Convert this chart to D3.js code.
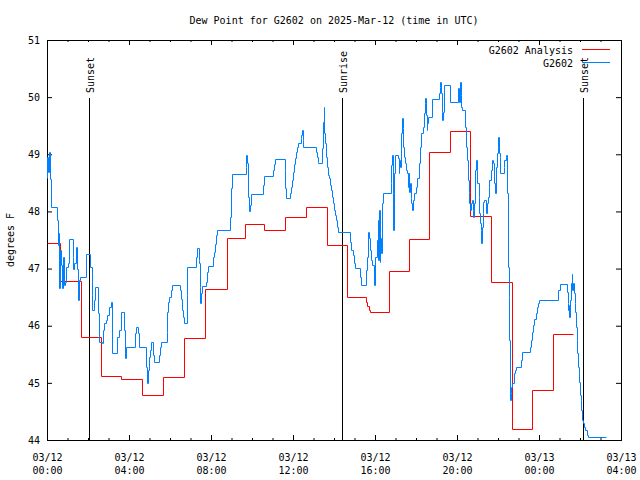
<!DOCTYPE html>
<html><head><meta charset="utf-8">
<script src="https://cdn.jsdelivr.net/npm/d3@7"></script>
<style>
body{margin:0;background:#fff}
svg{display:block;background:#fff}
text{font-family:"DejaVu Sans Mono","Liberation Mono",monospace;font-size:10px;fill:#000}
</style></head><body>
<svg id="c" width="640" height="480"></svg>
<script>
// ---------- data ----------
const chartTitle = "Dew Point for G2602 on 2025-Mar-12 (time in UTC)";
const yLabel = "degrees F";
const yTickValues = [44, 45, 46, 47, 48, 49, 50, 51];
const xTickHours = [0, 4, 8, 12, 16, 20, 24, 28];
const xTickDates = ["03/12", "03/12", "03/12", "03/12", "03/12", "03/12", "03/13", "03/13"];
const xTickTimes = ["00:00", "04:00", "08:00", "12:00", "16:00", "20:00", "00:00", "04:00"];
const seriesNames = ["G2602 Analysis", "G2602"];
const sunLabels = ["Sunset", "Sunrise", "Sunset"];
const sunMinutes = [123, 864, 1569];

// minutes after 2025-03-12 00:00 UTC
const analysisMinutes = [0, 38, 100, 158, 217, 278, 340, 401, 462, 526, 580, 636, 698, 757, 820, 878, 934, 938, 942, 945, 1001, 1060, 1118, 1180, 1238, 1300, 1361, 1420, 1481, 1540];
const analysisValues = [47.44, 46.79, 45.80, 45.12, 45.06, 44.79, 45.10, 45.78, 46.64, 47.53, 47.78, 47.67, 47.90, 48.08, 47.42, 46.50, 46.42, 46.35, 46.28, 46.24, 46.95, 47.52, 49.04, 49.41, 47.92, 46.76, 44.19, 44.87, 45.85, 45.85];

const obsMinutes = [0,1,4,6,9,11,30,32,34,36,38,41,44,47,50,53,56,60,64,75,76,79,84,87,91,94,97,113,126,131,133,138,140,150,153,160,165,168,173,177,181,186,189,206,211,216,225,228,231,258,260,267,270,291,294,296,299,302,305,311,314,328,331,333,350,352,355,358,362,366,389,392,395,399,402,409,411,436,438,444,446,447,449,451,453,464,467,470,487,490,493,496,498,536,538,541,582,583,585,588,590,594,597,633,635,662,665,668,696,697,700,711,713,716,719,722,725,728,731,736,743,744,746,748,750,787,789,792,794,806,808,810,812,814,816,819,822,825,828,831,834,838,841,844,847,850,853,887,890,895,899,902,916,918,933,936,939,941,945,947,950,956,961,965,968,970,972,974,976,978,980,983,1006,1007,1009,1012,1014,1016,1019,1027,1029,1031,1033,1035,1038,1041,1043,1046,1049,1051,1054,1056,1058,1060,1063,1065,1066,1068,1070,1074,1080,1082,1090,1093,1095,1101,1104,1106,1107,1109,1111,1113,1115,1126,1147,1149,1151,1153,1155,1157,1159,1161,1180,1204,1206,1209,1211,1213,1216,1223,1226,1230,1232,1234,1236,1238,1241,1244,1246,1248,1250,1253,1256,1258,1259,1264,1265,1267,1269,1271,1273,1275,1277,1280,1284,1287,1290,1293,1295,1300,1303,1306,1308,1311,1314,1316,1319,1321,1323,1325,1327,1337,1339,1342,1344,1347,1348,1351,1353,1355,1357,1359,1361,1366,1369,1373,1388,1391,1414,1417,1420,1423,1426,1430,1433,1436,1439,1497,1502,1522,1524,1526,1527,1529,1531,1534,1536,1538,1540,1542,1544,1546,1548,1550,1552,1554,1556,1558,1560,1562,1564,1566,1568,1571,1574,1580,1583,1635];
const obsValues = [48.59,48.95,48.69,49.04,48.57,48.08,47.85,47.41,47.62,46.66,47.33,47.06,46.66,47.20,46.71,46.77,47.03,47.10,47.52,47.20,46.99,47.10,47.38,46.99,46.45,46.80,46.85,47.26,47.03,46.54,46.28,46.45,46.68,46.22,45.72,45.70,45.93,46.05,46.10,46.19,46.33,46.42,45.52,45.80,45.93,46.24,45.93,45.44,45.63,45.87,45.98,45.87,45.63,45.28,45.00,45.22,45.45,45.58,45.72,45.49,45.36,45.49,45.63,45.72,45.89,46.24,46.42,46.50,46.63,46.71,46.63,46.47,46.28,46.15,46.05,46.54,47.03,47.20,47.36,47.15,47.10,46.68,46.40,46.57,46.70,46.77,46.94,47.05,47.20,47.29,47.43,47.59,47.68,47.90,48.41,48.66,48.78,48.99,48.85,48.25,48.01,48.11,48.31,48.46,48.62,48.73,48.83,48.92,48.73,48.41,48.24,48.32,48.43,48.55,48.69,48.83,48.94,49.04,49.13,49.20,49.29,49.34,49.43,49.25,49.13,49.04,48.95,48.87,48.85,49.11,49.57,49.83,49.37,49.20,48.95,48.78,48.64,48.59,48.46,48.38,48.25,48.15,48.03,47.94,47.85,47.73,47.64,47.47,47.33,47.24,47.10,47.01,46.85,46.71,46.98,47.20,47.64,47.54,47.33,47.15,47.06,46.71,47.20,47.50,47.85,47.15,48.03,47.12,47.54,47.27,48.15,48.32,48.50,48.81,48.99,48.32,47.68,48.67,48.99,48.94,48.67,48.90,48.78,49.37,49.64,49.46,49.13,48.95,48.85,48.73,48.67,48.43,48.67,48.34,48.50,48.24,48.15,48.03,48.20,48.32,48.43,48.59,48.85,49.13,49.37,49.48,49.72,49.90,49.99,49.69,49.43,49.55,49.65,49.97,50.07,50.18,50.27,50.07,49.74,49.60,49.74,50.21,49.92,50.16,49.92,50.27,50.04,49.83,49.78,49.48,49.13,48.90,48.55,48.34,48.15,48.03,48.15,48.20,48.03,47.90,48.15,48.73,48.90,48.73,48.50,48.25,47.97,47.80,47.68,47.45,47.73,47.97,48.17,48.20,47.97,48.15,48.25,48.43,48.55,48.73,48.90,48.85,48.50,48.32,48.78,49.02,49.13,49.30,49.02,48.95,48.67,48.78,48.90,48.95,48.99,48.32,47.03,46.50,45.75,44.70,44.82,44.93,45.00,45.17,45.22,45.28,45.40,45.54,45.63,45.75,45.89,46.01,46.12,46.22,46.33,46.40,46.45,46.63,46.73,46.59,46.40,46.28,46.36,46.15,46.45,46.75,46.91,46.63,46.75,46.57,46.40,46.24,45.98,45.75,45.52,45.28,45.17,45.02,44.79,44.70,44.53,44.35,44.30,44.23,44.18,44.09,44.05,44.05];

const colors = ["#ff0000", "#0080ff"];

// ---------- drawing ----------
const svg = d3.select("#c");
const t0 = Date.UTC(2025, 2, 12);
const toDate = m => new Date(t0 + m * 60000);
const x = d3.scaleUtc().domain([toDate(0), toDate(28 * 60)]).range([47, 621]);
const y = d3.scaleLinear().domain([44, 51]).range([440, 40]);

const majorDates = xTickHours.map(h => toDate(h * 60));
const minorDates = d3.range(0, 29).filter(h => h % 4 !== 0).map(h => toDate(h * 60));

const fontFam = '"DejaVu Sans Mono","Liberation Mono",monospace';
function clean(g) { g.select(".domain").remove(); g.attr("font-family", fontFam); }

// x ticks bottom (inward)
svg.append("g").attr("transform", "translate(0,440)")
  .call(d3.axisBottom(x).tickValues(majorDates).tickSize(-5).tickFormat("")).call(clean);
svg.append("g").attr("transform", "translate(0,440)")
  .call(d3.axisBottom(x).tickValues(minorDates).tickSize(-2).tickFormat("")).call(clean);
// x ticks top (inward)
svg.append("g").attr("transform", "translate(0,40)")
  .call(d3.axisTop(x).tickValues(majorDates).tickSize(-5).tickFormat("")).call(clean);
svg.append("g").attr("transform", "translate(0,40)")
  .call(d3.axisTop(x).tickValues(minorDates).tickSize(-2).tickFormat("")).call(clean);
// y ticks left with labels
const gl = svg.append("g").attr("transform", "translate(47,0)")
  .call(d3.axisLeft(y).tickValues(yTickValues).tickSize(-5).tickPadding(7).tickFormat(d3.format("d"))).call(clean);
gl.selectAll("text").attr("font-size", 10).attr("fill", "#000");
// y ticks right
svg.append("g").attr("transform", "translate(621,0)")
  .call(d3.axisRight(y).tickValues(yTickValues).tickSize(-5).tickFormat("")).call(clean);

// x labels (two lines)
const xl = svg.append("g");
xTickHours.forEach((h, i) => {
  const px = x(toDate(h * 60)) + 0.5;
  xl.append("text").attr("x", px).attr("y", 461).attr("text-anchor", "middle").text(xTickDates[i]);
  xl.append("text").attr("x", px).attr("y", 474).attr("text-anchor", "middle").text(xTickTimes[i]);
});

// frame
svg.append("rect").attr("x", 47.5).attr("y", 40.5).attr("width", 574).attr("height", 400)
  .attr("fill", "none").attr("stroke", "#000").attr("stroke-width", 1);

// title and y label
svg.append("text").attr("x", 334).attr("y", 24).attr("text-anchor", "middle").text(chartTitle);
svg.append("text").attr("transform", "translate(14,240) rotate(-90)").attr("text-anchor", "middle").text(yLabel);

// sunrise / sunset lines
sunMinutes.forEach((m, i) => {
  const px = Math.round(x(toDate(m))) + 0.5;
  svg.append("line").attr("x1", px).attr("x2", px).attr("y1", 98).attr("y2", 440)
    .attr("stroke", "#000").attr("stroke-width", 1);
  svg.append("text").attr("transform", `translate(${px + 4},93) rotate(-90)`)
    .attr("text-anchor", "start").text(sunLabels[i]);
});

// data lines
const line = d3.line().curve(d3.curveStepAfter)
  .x(d => Math.round(x(toDate(d[0]))) + 0.5)
  .y(d => Math.round(y(d[1])) + 0.5);

const analysis = analysisMinutes.map((m, i) => [m, analysisValues[i]]);
const obs = obsMinutes.map((m, i) => [m, obsValues[i]]);

svg.append("path").datum(analysis).attr("d", line)
  .attr("fill", "none").attr("stroke", colors[0]).attr("stroke-width", 1);
svg.append("path").datum(obs).attr("d", line)
  .attr("fill", "none").attr("stroke", colors[1]).attr("stroke-width", 1);

// legend
seriesNames.forEach((name, i) => {
  const ly = 50 + i * 13;
  svg.append("text").attr("x", 573).attr("y", ly + 3.5).attr("text-anchor", "end").text(name);
  svg.append("line").attr("x1", 582).attr("x2", 610).attr("y1", ly - 0.5).attr("y2", ly - 0.5)
    .attr("stroke", colors[i]).attr("stroke-width", 1);
});
</script>
</body></html>
